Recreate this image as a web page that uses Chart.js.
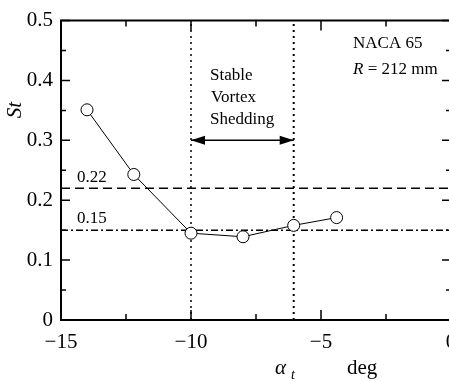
<!DOCTYPE html>
<html>
<head>
<meta charset="utf-8">
<script src="https://cdn.jsdelivr.net/npm/chart.js@4.4.1/dist/chart.umd.min.js"></script>
<style>
  html, body { margin: 0; padding: 0; background: #fff; }
  #wrap { width: 449px; height: 381px; overflow: hidden; }
  canvas { display: block; }
</style>
</head>
<body>
<div id="wrap"><canvas id="stChart" width="470" height="381"></canvas></div>
<script>
/* ===== data ===== */

// Strouhal number against stagger angle
const alphaDeg = [-14, -12.2, -10, -8, -6.05, -4.4];
const strouhal = [0.351, 0.243, 0.145, 0.139, 0.158, 0.171];

// reference levels and the stable shedding band
const levelDashed = 0.22;
const levelDashDot = 0.15;
const stableRange = [-10, -6.05];
const arrowLevel = 0.3;

// axes
const xRange = [-15, 0];
const yRange = [0, 0.5];
const xStep = 5;
const yStep = 0.1;

const SERIF = "'Liberation Serif', 'Times New Roman', serif";

function hLine(y) {
    return [{ x: xRange[0], y: y }, { x: xRange[1], y: y }];
}

function vLine(x) {
    return [{ x: x, y: yRange[0] }, { x: x, y: yRange[1] }];
}

/* ===== frame, inward ticks, arrow heads and labels ===== */

const decorPlugin = {
    id: "decor",
    afterDatasetsDraw(chart) {
        const c = chart.ctx;
        const a = chart.chartArea;
        const xs = chart.scales.x;
        const ys = chart.scales.y;

        c.save();
        c.strokeStyle = "#000";

        // box
        c.lineWidth = 2;
        c.beginPath();
        c.moveTo(a.left, a.top);
        c.lineTo(a.right, a.top);
        c.lineTo(a.right, a.bottom);
        c.lineTo(a.left, a.bottom);
        c.closePath();
        c.stroke();

        // inward ticks, major and half-step minor
        c.lineWidth = 1.5;
        for (let v = xRange[0]; v <= xRange[1] + 1e-9; v += xStep / 2) {
            const px = xs.getPixelForValue(v);
            const major = Math.abs(v / xStep - Math.round(v / xStep)) < 1e-6;
            const len = major ? 10 : 6;
            c.beginPath();
            c.moveTo(px, a.bottom);
            c.lineTo(px, a.bottom - len);
            c.moveTo(px, a.top);
            c.lineTo(px, a.top + len);
            c.stroke();
        }
        for (let i = 0; i <= Math.round((yRange[1] - yRange[0]) / (yStep / 2)); i++) {
            const v = yRange[0] + i * yStep / 2;
            const py = ys.getPixelForValue(v);
            const len = i % 2 === 0 ? 9 : 5;
            c.beginPath();
            c.moveTo(a.left, py);
            c.lineTo(a.left + len, py);
            c.moveTo(a.right, py);
            c.lineTo(a.right - len, py);
            c.stroke();
        }

        // arrow heads on the stable band arrow
        const arrowMeta = chart.getDatasetMeta(5);
        const p0 = arrowMeta.data[0];
        const p1 = arrowMeta.data[1];
        c.fillStyle = "#000";
        c.beginPath();
        c.moveTo(p0.x, p0.y);
        c.lineTo(p0.x + 14, p0.y - 4.5);
        c.lineTo(p0.x + 14, p0.y + 4.5);
        c.closePath();
        c.fill();
        c.beginPath();
        c.moveTo(p1.x, p1.y);
        c.lineTo(p1.x - 14, p1.y - 4.5);
        c.lineTo(p1.x - 14, p1.y + 4.5);
        c.closePath();
        c.fill();

        // texts
        c.textBaseline = "alphabetic";
        c.textAlign = "left";
        c.font = "17px " + SERIF;
        c.fillText("Stable", 210, 80);
        c.fillText("Vortex", 211, 102);
        c.fillText("Shedding", 210, 124);

        c.fillText("NACA 65", 353, 48);
        c.font = "italic 17px " + SERIF;
        c.fillText("R", 353, 74);
        const rw = c.measureText("R").width;
        c.font = "17px " + SERIF;
        c.fillText(" = 212 mm", 353 + rw, 74);

        c.fillText(levelDashed.toFixed(2), 77, ys.getPixelForValue(levelDashed) - 6);
        c.fillText(levelDashDot.toFixed(2), 77, ys.getPixelForValue(levelDashDot) - 7);

        // axis titles
        c.font = "italic 21px " + SERIF;
        c.fillText("\u03b1", 275, 374);
        c.font = "italic 14px " + SERIF;
        c.fillText("t", 291, 379);
        c.font = "21px " + SERIF;
        c.fillText("deg", 347, 374);

        c.translate(21, 110);
        c.rotate(-Math.PI / 2);
        c.textAlign = "center";
        c.font = "italic 21px " + SERIF;
        c.fillText("St", 0, 0);

        c.restore();
    }
};

/* ===== chart ===== */

const ctx = document.getElementById("stChart");

new Chart(ctx, {
    type: "scatter",
    data: {
        datasets: [
            {
                label: "St",
                data: alphaDeg.map((x, i) => ({ x: x, y: strouhal[i] })),
                showLine: true,
                borderColor: "#000",
                borderWidth: 1,
                pointRadius: 6,
                pointBorderWidth: 1,
                pointBackgroundColor: "#fff",
                pointBorderColor: "#000",
                order: 0
            },
            {
                label: "0.22",
                data: hLine(levelDashed),
                showLine: true,
                borderColor: "#000",
                borderWidth: 1.5,
                borderDash: [9, 5],
                pointRadius: 0,
                order: 2
            },
            {
                label: "0.15",
                data: hLine(levelDashDot),
                showLine: true,
                borderColor: "#000",
                borderWidth: 1.5,
                borderDash: [7, 3, 2, 3],
                pointRadius: 0,
                order: 2
            },
            {
                label: "left",
                data: vLine(stableRange[0]),
                showLine: true,
                borderColor: "#000",
                borderWidth: 1.5,
                borderDash: [2, 4],
                pointRadius: 0,
                order: 2
            },
            {
                label: "right",
                data: vLine(stableRange[1]),
                showLine: true,
                borderColor: "#000",
                borderWidth: 2,
                borderDash: [2, 4],
                pointRadius: 0,
                order: 2
            },
            {
                label: "arrow",
                data: stableRange.map(x => ({ x: x, y: arrowLevel })),
                showLine: true,
                borderColor: "#000",
                borderWidth: 1.5,
                pointRadius: 0,
                order: 1
            }
        ]
    },
    options: {
        responsive: false,
        animation: false,
        events: [],
        layout: {
            padding: { left: 0, right: 19, top: 17, bottom: 0 }
        },
        plugins: {
            legend: { display: false },
            tooltip: { enabled: false }
        },
        scales: {
            x: {
                type: "linear",
                min: xRange[0],
                max: xRange[1],
                grid: { display: false, drawTicks: false },
                border: { display: false },
                ticks: {
                    stepSize: xStep,
                    padding: 10,
                    color: "#000",
                    font: { family: SERIF, size: 21 },
                    maxRotation: 0,
                    callback: v => (v < 0 ? "\u2212" + Math.abs(v) : String(v))
                },
                afterFit: scale => { scale.height = 61; }
            },
            y: {
                type: "linear",
                min: yRange[0],
                max: yRange[1],
                grid: { display: false, drawTicks: false },
                border: { display: false },
                ticks: {
                    stepSize: yStep,
                    padding: 8,
                    color: "#000",
                    font: { family: SERIF, size: 21 },
                    callback: v => (Math.abs(v) < 1e-9 ? "0" : v.toFixed(1))
                },
                afterFit: scale => { scale.width = 61; }
            }
        }
    },
    plugins: [decorPlugin]
});
</script>
</body>
</html>
